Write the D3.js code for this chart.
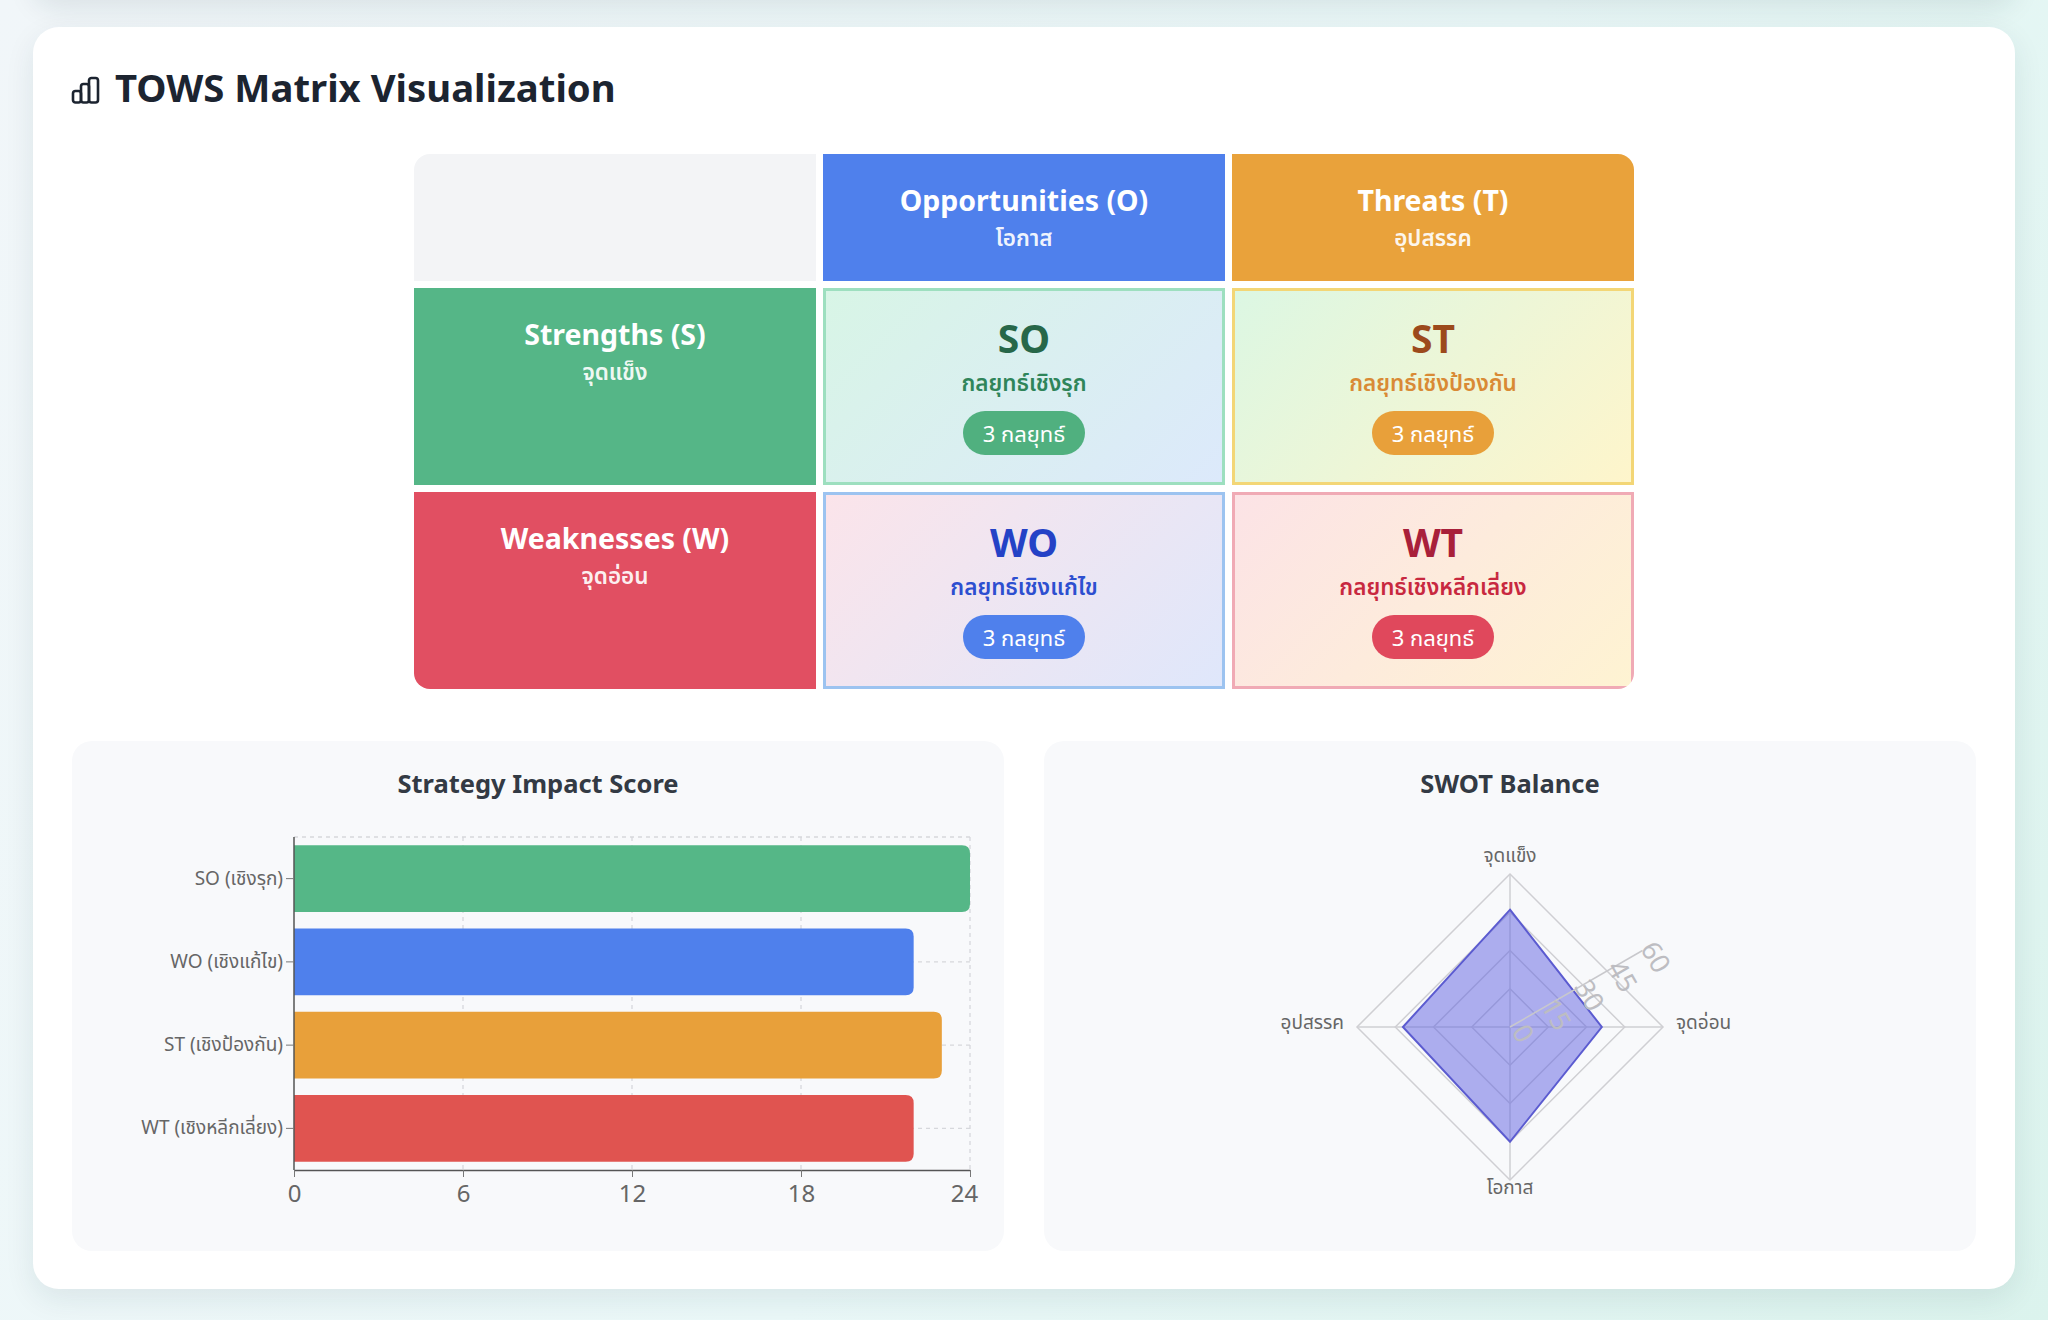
<!DOCTYPE html>
<html>
<head>
<meta charset="utf-8">
<script src="https://cdn.jsdelivr.net/npm/d3@7"></script>
<style>
html, body { margin: 0; width: 2048px; height: 1320px; overflow: hidden; }
body {
  position: relative;
  background: linear-gradient(120deg, #f1f6f9 0%, #eaf8f8 55%, #dbf3ed 100%);
  font-family: "Noto Sans", "Noto Sans Thai", sans-serif;
}
.prev { position: absolute; left: 33px; top: -220px; width: 1982px; height: 220px; background: #fff;
  border-radius: 24px; box-shadow: 0 8px 28px rgba(20, 50, 60, 0.10); }
.card { position: absolute; left: 33px; top: 27px; width: 1982px; height: 1262px; background: #fff;
  border-radius: 26px; box-shadow: 0 10px 30px rgba(20, 60, 70, 0.09); }
.title { position: absolute; left: 82px; top: 35px; height: 50px; line-height: 50px; font-size: 38.3px;
  font-weight: 700; color: #1c2430; white-space: nowrap; }
.icon { position: absolute; left: 38px; top: 48px; }
.matrix { position: absolute; left: 381px; top: 127px; display: grid;
  grid-template-columns: 402px 402px 402px; grid-template-rows: 127px 197px 197px;
  gap: 7px; border-radius: 16px; overflow: hidden; }
.cell { position: relative; box-sizing: border-box; text-align: center; }
.cell .t { position: absolute; left: 0; right: 0; white-space: nowrap; }
.panel { position: absolute; top: 714px; width: 932px; height: 510px; background: #f8f9fb; border-radius: 20px; }
.badge { display: inline-block; height: 44px; line-height: 44px; padding: 0 20px; border-radius: 22px;
  color: #fff; font-size: 22px; font-weight: 400; }
</style>
</head>
<body>
<div class="prev"></div>
<div class="card" id="card"></div>
<script>
// ---- data ----
const colHeads = ["Opportunities (O)", "Threats (T)"];
const colThai = ["โอกาส", "อุปสรรค"];
const colColors = ["#4f80ec", "#e9a23b"];
const rowHeads = ["Strengths (S)", "Weaknesses (W)"];
const rowThai = ["จุดแข็ง", "จุดอ่อน"];
const rowColors = ["#55b687", "#e14f62"];
const cellCodes = [["SO", "ST"], ["WO", "WT"]];
const cellThai = [["กลยุทธ์เชิงรุก", "กลยุทธ์เชิงป้องกัน"], ["กลยุทธ์เชิงแก้ไข", "กลยุทธ์เชิงหลีกเลี่ยง"]];
const strategyCounts = [[3, 3], [3, 3]];

const barLabels = ["SO (เชิงรุก)", "WO (เชิงแก้ไข)", "ST (เชิงป้องกัน)", "WT (เชิงหลีกเลี่ยง)"];
const barScores = [24, 22, 23, 22];
const barColors = ["#55b787", "#4f80ec", "#e8a03a", "#e05450"];
const barTicks = [0, 6, 12, 18, 24];

const radarAxes = ["จุดแข็ง", "จุดอ่อน", "โอกาส", "อุปสรรค"];
const radarValues = [46, 36, 45, 42];
const radarTicks = [0, 15, 30, 45, 60];

// quadrant styling
const cellStyle = {
  SO: { bg: "linear-gradient(135deg,#d8f5e6,#dce9fb)", border: "#9ddfbf", title: "#276749", sub: "#2f855a", badge: "#50b07f" },
  ST: { bg: "linear-gradient(135deg,#dcf7e3,#fef5cb)", border: "#f3d676", title: "#9c4a1c", sub: "#d98a35", badge: "#e8a03a" },
  WO: { bg: "linear-gradient(135deg,#fbe4ea,#dfe7fb)", border: "#9cc3f0", title: "#2442c6", sub: "#2d4fd0", badge: "#4f80ec" },
  WT: { bg: "linear-gradient(135deg,#fce3e6,#fef3d2)", border: "#f0aab5", title: "#a8203a", sub: "#c8283f", badge: "#e0485c" }
};

const card = d3.select("#card");

// ---- title ----
const icon = card.append("svg").attr("class", "icon").attr("width", 30).attr("height", 30);
[[2, 16, 8, 12], [10, 9, 8, 19], [18, 3, 9, 25]].forEach(b => {
  icon.append("rect").attr("x", b[0]).attr("y", b[1]).attr("width", b[2]).attr("height", b[3] - 0.5)
    .attr("rx", 2.5).attr("fill", "none").attr("stroke", "#1c2430").attr("stroke-width", 2.6);
});
card.append("div").attr("class", "title").text("TOWS Matrix Visualization");

// ---- matrix ----
const matrix = card.append("div").attr("class", "matrix");
const headCell = (bg, en, th) => {
  const c = matrix.append("div").attr("class", "cell").style("background", bg);
  if (en) {
    c.append("div").attr("class", "t").style("top", "28px").style("line-height", "36px")
      .style("font-size", "28.5px").style("font-weight", 700).style("color", "#fff").text(en);
    c.append("div").attr("class", "t").style("top", "69px").style("line-height", "30px")
      .style("font-size", "22.5px").style("font-weight", 600).style("color", "rgba(255,255,255,0.92)").text(th);
  }
};
headCell("#f3f4f6");
colHeads.forEach((h, j) => headCell(colColors[j], h, colThai[j]));
rowHeads.forEach((h, i) => {
  headCell(rowColors[i], h, rowThai[i]);
  cellCodes[i].forEach((code, j) => {
    const s = cellStyle[code];
    const c = matrix.append("div").attr("class", "cell")
      .style("background", s.bg).style("border", "3px solid " + s.border);
    c.append("div").attr("class", "t").style("top", "24px").style("line-height", "46px")
      .style("font-size", "39px").style("font-weight", 700).style("color", s.title).text(code);
    c.append("div").attr("class", "t").style("top", "76px").style("line-height", "32px")
      .style("font-size", "22.5px").style("font-weight", 600).style("color", s.sub).text(cellThai[i][j]);
    c.append("div").attr("class", "t").style("top", "120px")
      .append("span").attr("class", "badge").style("background", s.badge)
      .text(strategyCounts[i][j] + " กลยุทธ์");
  });
});

// ---- bar chart ----
const W = 932, H = 510;
const barSvg = card.append("div").attr("class", "panel").style("left", "39px")
  .append("svg").attr("width", W).attr("height", H);
barSvg.append("text").attr("x", W / 2).attr("y", 42).attr("text-anchor", "middle")
  .attr("dominant-baseline", "central").attr("font-size", 25.5).attr("font-weight", 700)
  .attr("fill", "#333a44").text("Strategy Impact Score");

const m = { left: 222, right: 898, top: 96, bottom: 429 };
const x = d3.scaleLinear().domain([0, 24]).range([m.left, m.right]);
const y = d3.scaleBand().domain(barLabels).range([m.top, m.bottom]).paddingInner(0.2).paddingOuter(0.1);

// grid
const grid = barSvg.append("g").attr("stroke", "#d6d8dc").attr("stroke-dasharray", "4,4").attr("stroke-width", 1.3);
grid.selectAll(".v").data(barTicks.slice(1)).join("line")
  .attr("x1", d => x(d)).attr("x2", d => x(d)).attr("y1", m.top).attr("y2", m.bottom);
grid.selectAll(".h").data(barLabels).join("line")
  .attr("x1", m.left).attr("x2", m.right)
  .attr("y1", d => y(d) + y.bandwidth() / 2).attr("y2", d => y(d) + y.bandwidth() / 2);
grid.append("line").attr("x1", m.left).attr("x2", m.right).attr("y1", m.top).attr("y2", m.top);

// bars with rounded right ends
const rr = 8;
barSvg.selectAll(".bar").data(barLabels).join("path")
  .attr("fill", (d, i) => barColors[i])
  .attr("d", (d, i) => {
    const x0 = x(0), x1 = x(barScores[i]), y0 = y(d), h = y.bandwidth();
    return `M${x0},${y0}H${x1 - rr}Q${x1},${y0} ${x1},${y0 + rr}V${y0 + h - rr}Q${x1},${y0 + h} ${x1 - rr},${y0 + h}H${x0}Z`;
  });

// axes
const xAxis = barSvg.append("g").attr("transform", `translate(0,${m.bottom})`)
  .call(d3.axisBottom(x).tickValues(barTicks).tickSize(7).tickSizeOuter(0));
xAxis.select(".domain").attr("stroke", "#555").attr("stroke-width", 1.5);
xAxis.selectAll(".tick line").attr("stroke", "#777");
xAxis.selectAll("text").attr("font-size", 24).attr("fill", "#666").attr("dy", "0.9em")
  .attr("font-family", "Noto Sans, sans-serif");
xAxis.selectAll(".tick").filter(d => d === 24).select("text").attr("dx", "-0.25em");

const yAxis = barSvg.append("g").attr("transform", `translate(${m.left},0)`)
  .call(d3.axisLeft(y).tickSize(8).tickSizeOuter(0).tickPadding(3));
yAxis.select(".domain").attr("stroke", "#555").attr("stroke-width", 1.5)
  .attr("d", `M0,${m.top}V${m.bottom}`);
yAxis.selectAll(".tick line").attr("stroke", "#777");
yAxis.selectAll("text").attr("font-size", 19).attr("fill", "#666")
  .attr("font-family", "Noto Sans, Noto Sans Thai, sans-serif");

// ---- radar ----
const radarSvg = card.append("div").attr("class", "panel").style("left", "1011px")
  .append("svg").attr("width", W).attr("height", H);
radarSvg.append("text").attr("x", W / 2).attr("y", 42).attr("text-anchor", "middle")
  .attr("dominant-baseline", "central").attr("font-size", 25.5).attr("font-weight", 700)
  .attr("fill", "#333a44").text("SWOT Balance");

const cx = 466, cy = 286, R = 153;
const r = d3.scaleLinear().domain([0, 60]).range([0, R]);
const n = radarAxes.length;
const g = radarSvg.append("g").attr("transform", `translate(${cx},${cy})`);
const ringLine = d3.lineRadial().angle((d, i) => i * 2 * Math.PI / n).radius(d => d).curve(d3.curveLinearClosed);

g.selectAll(".ring").data(radarTicks.slice(1)).join("path")
  .attr("d", t => ringLine(d3.range(n).map(() => r(t))))
  .attr("fill", "none").attr("stroke", "#cfcfd3").attr("stroke-width", 1.5);
g.selectAll(".spoke").data(radarAxes).join("line")
  .attr("x1", 0).attr("y1", 0)
  .attr("x2", (d, i) => d3.pointRadial(i * 2 * Math.PI / n, R)[0])
  .attr("y2", (d, i) => d3.pointRadial(i * 2 * Math.PI / n, R)[1])
  .attr("stroke", "#cfcfd3").attr("stroke-width", 1.5);

const valLine = d3.lineRadial().angle((d, i) => i * 2 * Math.PI / n).radius(d => r(d)).curve(d3.curveLinearClosed);
g.append("path").attr("d", valLine(radarValues))
  .attr("fill", "rgba(96,98,226,0.5)").attr("stroke", "#5b5bd0").attr("stroke-width", 2);

// tick ray
const rayA = Math.PI / 3;
const rayEnd = d3.pointRadial(rayA, R);
g.append("line").attr("x1", 0).attr("y1", 0).attr("x2", rayEnd[0]).attr("y2", rayEnd[1])
  .attr("stroke", "#c8c8cc").attr("stroke-width", 1.5);
g.selectAll(".rtick").data(radarTicks).join("text")
  .attr("transform", t => {
    const p = d3.pointRadial(rayA, r(t));
    return `translate(${p[0] + 14},${p[1] + 6}) rotate(60)`;
  })
  .attr("text-anchor", "middle").attr("dominant-baseline", "central")
  .attr("font-size", 27).attr("fill", "#bdbdc2").text(t => t);

// axis labels
const labelPos = [[0, -172, "middle"], [166, -5, "start"], [0, 160, "middle"], [-166, -5, "end"]];
g.selectAll(".alabel").data(radarAxes).join("text")
  .attr("x", (d, i) => labelPos[i][0]).attr("y", (d, i) => labelPos[i][1])
  .attr("text-anchor", (d, i) => labelPos[i][2]).attr("dominant-baseline", "central")
  .attr("font-size", 19).attr("fill", "#666").text(d => d);
</script>
</body>
</html>
